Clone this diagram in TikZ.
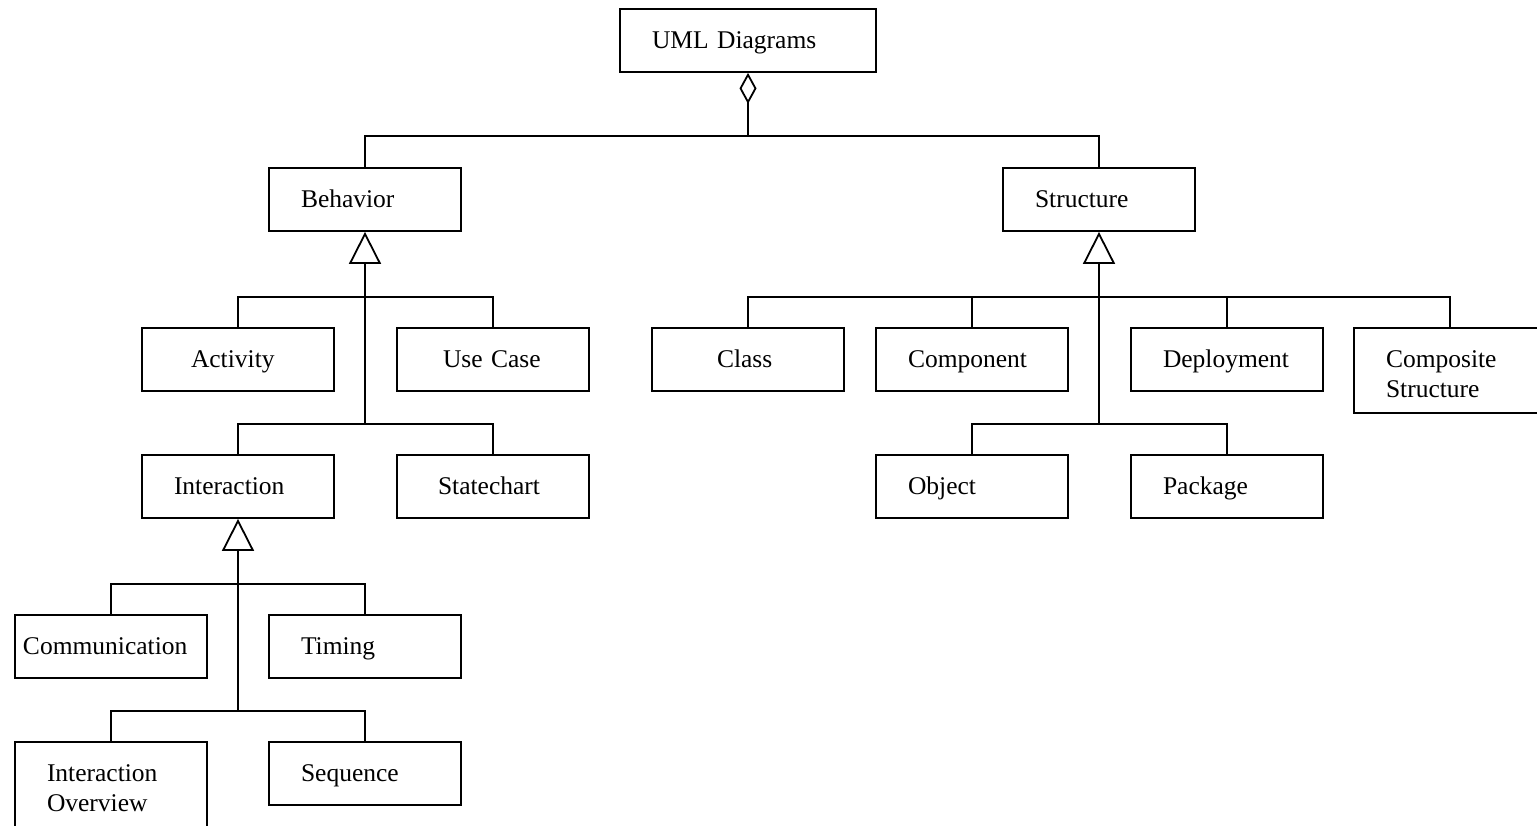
\documentclass[tikz,border=0pt]{standalone}
\usepackage{fontspec}
\setmainfont{Liberation Serif}
\usetikzlibrary{positioning, arrows.meta, calc}

\begin{document}
\begin{tikzpicture}[x=1pt, y=-1pt, line width=1.8pt,
  every node/.style={font=\fontsize{25.5}{30}\selectfont},
  pad/.style={inner xsep=#1, text width=192pt-2*#1},
  diag/.style={draw, rectangle, minimum height=63pt, pad=32pt,
    align=left, text height=20pt, text depth=4pt},
  twoline/.style={minimum height=85pt, text depth=26pt},
  agg/.style={{Diamond[open, length=31pt, width=17pt]}-},
  gen/.style={{Triangle[open, length=32pt, width=32pt]}-}]
  \useasboundingbox (0,0) rectangle (1537,826);

  % Nodes
  \node[diag, text width=192pt] (uml) at (748,40.5) {UML Diagrams};
  \node[diag] (behavior) at (365,199.5) {Behavior};
  \node[diag] (structure) at (1099,199.5) {Structure};
  \node[diag, pad=49pt] (activity) at (238,359.5) {Activity};
  \node[diag, pad=46pt] (usecase) at (493,359.5) {Use Case};
  \node[diag, pad=65pt] (class) at (748,359.5) {Class};
  \node[diag] (component) at (972,359.5) {Component};
  \node[diag] (deployment) at (1227,359.5) {Deployment};
  \node[diag, twoline] (composite) at (1450,370.5) {Composite\\Structure};
  \node[diag] (interaction) at (238,486.5) {Interaction};
  \node[diag, pad=41pt] (statechart) at (493,486.5) {Statechart};
  \node[diag] (object) at (972,486.5) {Object};
  \node[diag] (package) at (1227,486.5) {Package};
  \node[diag, pad=8pt] (communication) at (111,646.5) {Communication};
  \node[diag] (timing) at (365,646.5) {Timing};
  \node[diag, twoline] (overview) at (111,784.5) {Interaction\\Overview};
  \node[diag] (sequence) at (365,773.5) {Sequence};

  % Junctions
  \coordinate (top) at ($(uml.south)+(0,63)$);
  \coordinate (bmid) at ($(behavior.south)+(0,65)$);
  \coordinate (bend) at ($(behavior.south)+(0,192)$);
  \coordinate (smid) at ($(structure.south)+(0,65)$);
  \coordinate (send) at ($(structure.south)+(0,192)$);
  \coordinate (imid) at ($(interaction.south)+(0,65)$);
  \coordinate (iend) at ($(interaction.south)+(0,192)$);

  % Connectors
  \draw[agg] (uml.south) -- (top);
  \draw (behavior.north) |- (top) -| (structure.north);

  \draw[gen] (behavior.south) -- (bend);
  \draw (activity.north) |- (bmid) -| (usecase.north);
  \draw (interaction.north) |- (bend) -| (statechart.north);

  \draw[gen] (structure.south) -- (send);
  \draw (class.north) |- (smid) -| (composite.north);
  \draw (component.north) -- (component.north |- smid);
  \draw (deployment.north) -- (deployment.north |- smid);
  \draw (object.north) |- (send) -| (package.north);

  \draw[gen] (interaction.south) -- (iend);
  \draw (communication.north) |- (imid) -| (timing.north);
  \draw (overview.north) |- (iend) -| (sequence.north);
\end{tikzpicture}
\end{document}
